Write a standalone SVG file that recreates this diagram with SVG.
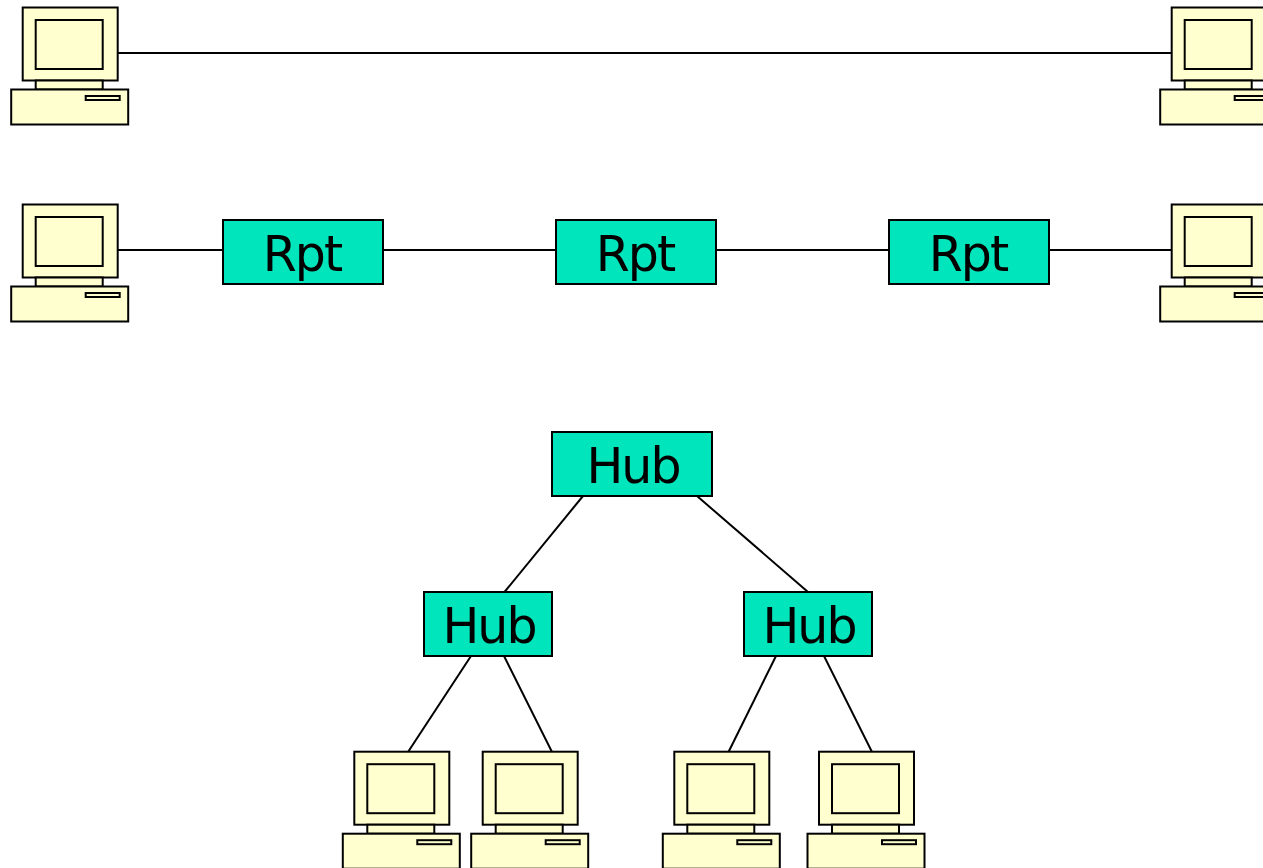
<svg xmlns="http://www.w3.org/2000/svg" xmlns:xlink="http://www.w3.org/1999/xlink" width="1263" height="868" viewBox="0 0 1263 868">
<style>
.pc{fill:#FFFFD0;stroke:#000;stroke-width:2}
.box{fill:#00E5BB;stroke:#000;stroke-width:2}
.lbl{font-family:"DejaVu Sans","Verdana",sans-serif;font-size:49px;letter-spacing:-2px;fill:#000;text-anchor:middle}
.ln{stroke:#000;stroke-width:2;fill:none}
</style>
<defs>
<g id="computer">
<rect class="pc" x="0" y="0" width="95" height="73"/>
<rect class="pc" x="13" y="12.5" width="67" height="49"/>
<rect class="pc" x="13" y="73" width="67" height="9"/>
<rect class="pc" x="-11.5" y="82" width="117" height="35"/>
<rect class="pc" x="63" y="88.5" width="34" height="4"/>
</g>
</defs>
<rect width="1263" height="868" fill="#fff"/>
<g id="connectors">
<line class="ln" x1="117" y1="53" x2="1173" y2="53"/>
<line class="ln" x1="117" y1="250" x2="223" y2="250"/>
<line class="ln" x1="383" y1="250" x2="556" y2="250"/>
<line class="ln" x1="716" y1="250" x2="889" y2="250"/>
<line class="ln" x1="1049" y1="250" x2="1173" y2="250"/>
<line class="ln" x1="583" y1="496" x2="504.5" y2="592"/>
<line class="ln" x1="697" y1="496" x2="808" y2="592"/>
<line class="ln" x1="471" y1="656" x2="408" y2="752"/>
<line class="ln" x1="504" y1="656" x2="552" y2="752"/>
<line class="ln" x1="776" y1="656" x2="728.5" y2="752"/>
<line class="ln" x1="824" y1="656" x2="872" y2="752"/>
</g>
<g id="pc1"><use xlink:href="#computer" href="#computer" transform="translate(22.7,7.5)"/></g>
<g id="pc2"><use xlink:href="#computer" href="#computer" transform="translate(1171.7,7.5)"/></g>
<g id="pc3"><use xlink:href="#computer" href="#computer" transform="translate(22.7,204.5)"/></g>
<g id="pc4"><use xlink:href="#computer" href="#computer" transform="translate(1171.7,204.5)"/></g>
<g id="rpt1"><rect class="box" x="223" y="220" width="160" height="64"/><text class="lbl" x="302" y="271">Rpt</text></g>
<g id="rpt2"><rect class="box" x="556" y="220" width="160" height="64"/><text class="lbl" x="635" y="271">Rpt</text></g>
<g id="rpt3"><rect class="box" x="889" y="220" width="160" height="64"/><text class="lbl" x="968" y="271">Rpt</text></g>
<g id="hub-top"><rect class="box" x="552" y="432" width="160" height="64"/><text class="lbl" x="633" y="483">Hub</text></g>
<g id="hub-left"><rect class="box" x="424" y="592" width="128" height="64"/><text class="lbl" x="489" y="643">Hub</text></g>
<g id="hub-right"><rect class="box" x="744" y="592" width="128" height="64"/><text class="lbl" x="809" y="643">Hub</text></g>
<g id="pc5"><use xlink:href="#computer" href="#computer" transform="translate(354.3,751.7)"/></g>
<g id="pc6"><use xlink:href="#computer" href="#computer" transform="translate(482.7,751.7)"/></g>
<g id="pc7"><use xlink:href="#computer" href="#computer" transform="translate(674.3,751.7)"/></g>
<g id="pc8"><use xlink:href="#computer" href="#computer" transform="translate(819,751.7)"/></g>
</svg>
